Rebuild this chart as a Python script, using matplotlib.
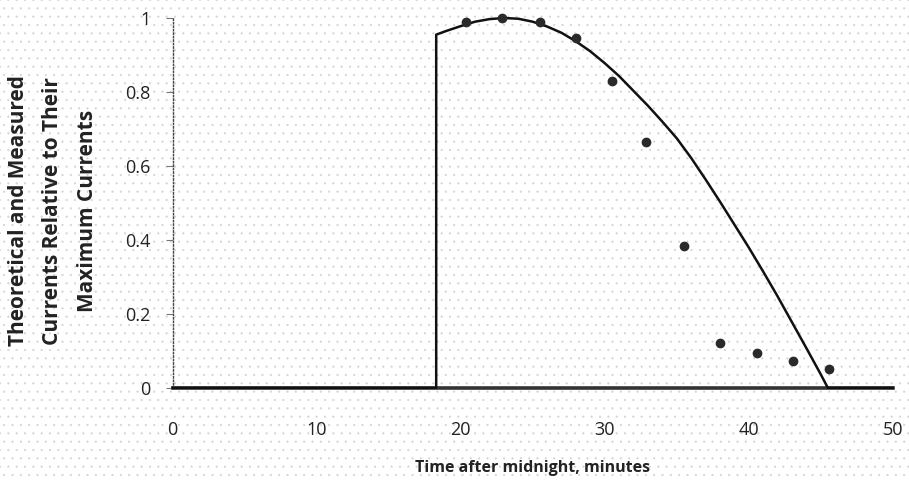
import matplotlib
matplotlib.use("Agg")
import matplotlib.pyplot as plt
from matplotlib.patches import Rectangle

# Theoretical curve
theory_time = [0, 18.3, 18.3, 19, 20, 21, 22, 23, 24, 25, 26, 27, 28, 29, 30, 31, 32,
               33, 34, 35, 36, 37, 38, 39, 40, 41, 42, 43, 44, 45, 45.5, 50]
theory_val = [0, 0, 0.955, 0.965, 0.978, 0.99, 0.997, 1.0, 0.998, 0.99, 0.977, 0.96,
              0.937, 0.91, 0.878, 0.843, 0.803, 0.763, 0.72, 0.675, 0.622, 0.564, 0.504,
              0.442, 0.38, 0.315, 0.248, 0.178, 0.108, 0.037, 0.0, 0.0]

# Measured points
meas_time = [20.4, 22.9, 25.5, 28.0, 30.5, 32.9, 35.5, 38.0, 40.6, 43.1, 45.6]
meas_val = [0.99, 1.0, 0.99, 0.946, 0.83, 0.665, 0.384, 0.12, 0.094, 0.072, 0.05]

x_ticks = [0, 10, 20, 30, 40, 50]
y_ticks = [0, 0.2, 0.4, 0.6, 0.8, 1]
y_tick_labels = ["0", "0.2", "0.4", "0.6", "0.8", "1"]

plt.rcParams['font.family'] = ['Open Sans', 'DejaVu Sans']
plt.rcParams['hatch.linewidth'] = 0.3

fig = plt.figure(figsize=(9.09, 4.8), dpi=100)
fig.patch.set_facecolor('white')
bg = Rectangle((0, 0), 1, 1, transform=fig.transFigure, facecolor='white',
               edgecolor='#d2d2d2', linewidth=0, hatch='..', zorder=-10)
fig.patches.append(bg)

ax = fig.add_axes([0.190, 0.192, 0.792, 0.7705])
ax.patch.set_alpha(0)

txt = '#222222'
ax.plot(theory_time, theory_val, color='#111111', lw=1.8, clip_on=False, zorder=3)
ax.plot(meas_time, meas_val, linestyle='none', marker='o', markersize=6,
        color='#2a2a2a', clip_on=False, zorder=4)

ax.set_xlim(0, 50)
ax.set_ylim(0, 1)
ax.set_xticks(x_ticks)
ax.set_yticks(y_ticks)
ax.set_yticklabels(y_tick_labels)

for s in ['top', 'right']:
    ax.spines[s].set_visible(False)
ax.spines['bottom'].set_linewidth(2.6)
ax.spines['bottom'].set_color('#333333')
ax.spines['left'].set_linewidth(1.0)
ax.spines['left'].set_linestyle((0, (1, 1.5)))
ax.spines['left'].set_color('#444444')

ax.tick_params(axis='x', length=0, pad=24, labelsize=13, labelcolor=txt)
ax.tick_params(axis='y', length=5, width=0.8, color='#777777', pad=11,
               labelsize=13, labelcolor=txt)

ax.set_xlabel("Time after midnight, minutes", fontsize=11.5, fontweight='bold',
              color=txt, labelpad=15)
ax.set_ylabel("Theoretical and Measured\nCurrents Relative to Their\nMaximum Currents",
              fontsize=15, fontweight='bold', color=txt, linespacing=1.85)
ax.yaxis.set_label_coords(-0.104, 0.478)

fig.savefig("out.png", dpi=100)
